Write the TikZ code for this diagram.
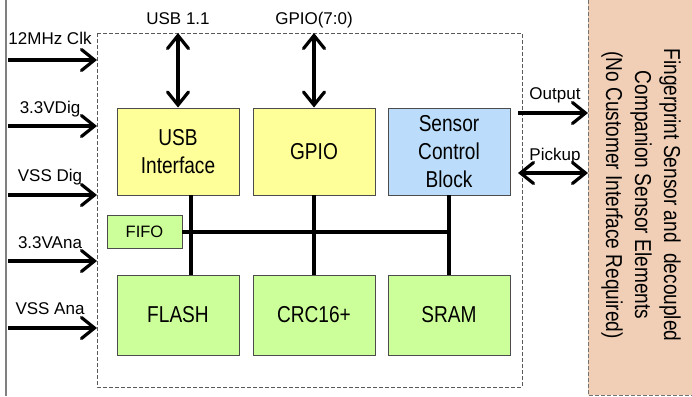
\documentclass[tikz,border=0pt]{standalone}
\usepackage{fontspec}
\setmainfont{Liberation Sans}
\newfontfamily\boxfont[FakeStretch=0.83]{Liberation Sans}
\usetikzlibrary{arrows.meta}
\definecolor{ylw}{HTML}{FFFF99}
\definecolor{grn}{HTML}{CCFF99}
\definecolor{blu}{HTML}{BBDDFB}
\definecolor{peach}{HTML}{F0CFB6}
\tikzset{
  blk/.style={draw=black!70, line width=0.9pt, minimum width=122pt, inner sep=0pt, align=center,
              font=\boxfont\fontsize{23}{28}\selectfont},
  topblk/.style={blk, minimum height=87pt},
  botblk/.style={blk, fill=grn, minimum height=80pt},
  lbl/.style={anchor=base, inner sep=0pt, font=\fontsize{17}{20}\selectfont},
  tipbarb/.tip={Straight Barb[length=13pt,width=21pt,line cap=round]},
  sig/.style={line width=3.2pt, -tipbarb},
  bisig/.style={line width=3.2pt, tipbarb-tipbarb},
  bus/.style={line width=4pt},
}
\begin{document}
\begin{tikzpicture}[x=1pt,y=-1pt]
\useasboundingbox (0,0) rectangle (692,396);
% left rail
\draw[gray, line width=1.2pt] (6,0) -- (6,396);
% chip outline
\coordinate (chipNW) at (97,33);
\coordinate (chipSE) at (522,387);
\draw[black!65, dash pattern=on 4pt off 2pt, line width=0.8pt] (chipNW) rectangle (chipSE);
% sensor panel
\node[fill=peach, minimum width=106pt, minimum height=395pt, inner sep=0pt, anchor=north west] (fp) at (588,0) {};
\draw[black!55, dash pattern=on 4pt off 2pt, line width=0.8pt] (fp.north west) -- (fp.south west) -- (fp.south east);
\node[rotate=-90, align=center, inner sep=0pt, font=\boxfont\fontsize{23}{29}\selectfont] (fptext) at (641,195)
  {Fingerprint Sensor and~ decoupled\\Companion Sensor Elements\\(No Customer Interface Required)};
% blocks
\node[topblk, fill=ylw] (usb) at (178,151.5) {USB\\Interface};
\node[topblk, fill=ylw] (gpio) at (314,151.5) {GPIO};
\node[topblk, fill=blu] (scb) at (449,151.5) {Sensor\\Control\\Block};
\node[botblk] (flash) at (178,315) {FLASH};
\node[botblk] (crc) at (314,315) {CRC16+};
\node[botblk] (sram) at (449,315) {SRAM};
\node[draw=black!70, line width=0.9pt, fill=grn, minimum width=75pt, minimum height=33pt, inner sep=0pt,
      font=\fontsize{16.5}{20}\selectfont] (fifo) at (144.5,231.5) {FIFO};
% bus
\coordinate (v1) at (191,0);
\draw[bus] (usb.south -| v1) -- (flash.north -| v1);
\draw[bus] (gpio.south) -- (crc.north);
\draw[bus] (scb.south) -- (sram.north);
\draw[bus] (fifo.east) -- (fifo.east -| sram.north);
% top ports
\draw[bisig] (usb.north |- chipNW) -- (usb.north);
\draw[bisig] (gpio.north |- chipNW) -- (gpio.north);
\node[lbl] (lusb) at (178,25) {USB 1.1};
\node[lbl] (lgpio) at (314,25) {GPIO(7:0)};
% left inputs
\coordinate (i1) at (8,60);
\coordinate (i2) at (8,126);
\coordinate (i3) at (8,195);
\coordinate (i4) at (8,261);
\coordinate (i5) at (8,328);
\draw[sig] (i1) -- (i1 -| chipNW);
\draw[sig] (i2) -- (i2 -| chipNW);
\draw[sig] (i3) -- (i3 -| chipNW);
\draw[sig] (i4) -- (i4 -| chipNW);
\draw[sig] (i5) -- (i5 -| chipNW);
\node[lbl] (l1) at (50,45) {12MHz Clk};
\node[lbl] (l2) at (50,113) {3.3VDig};
\node[lbl] (l3) at (50,181) {VSS Dig};
\node[lbl] (l4) at (50,248) {3.3VAna};
\node[lbl] (l5) at (50,314) {VSS Ana};
% right outputs
\coordinate (o1) at (518,113);
\coordinate (o2) at (518,173);
\draw[sig] (o1) -- (o1 -| fp.west);
\draw[bisig] (o2) -- (o2 -| fp.west);
\node[lbl] (lout) at (555,99) {Output};
\node[lbl] (lpick) at (555,160) {Pickup};
\end{tikzpicture}
\end{document}
